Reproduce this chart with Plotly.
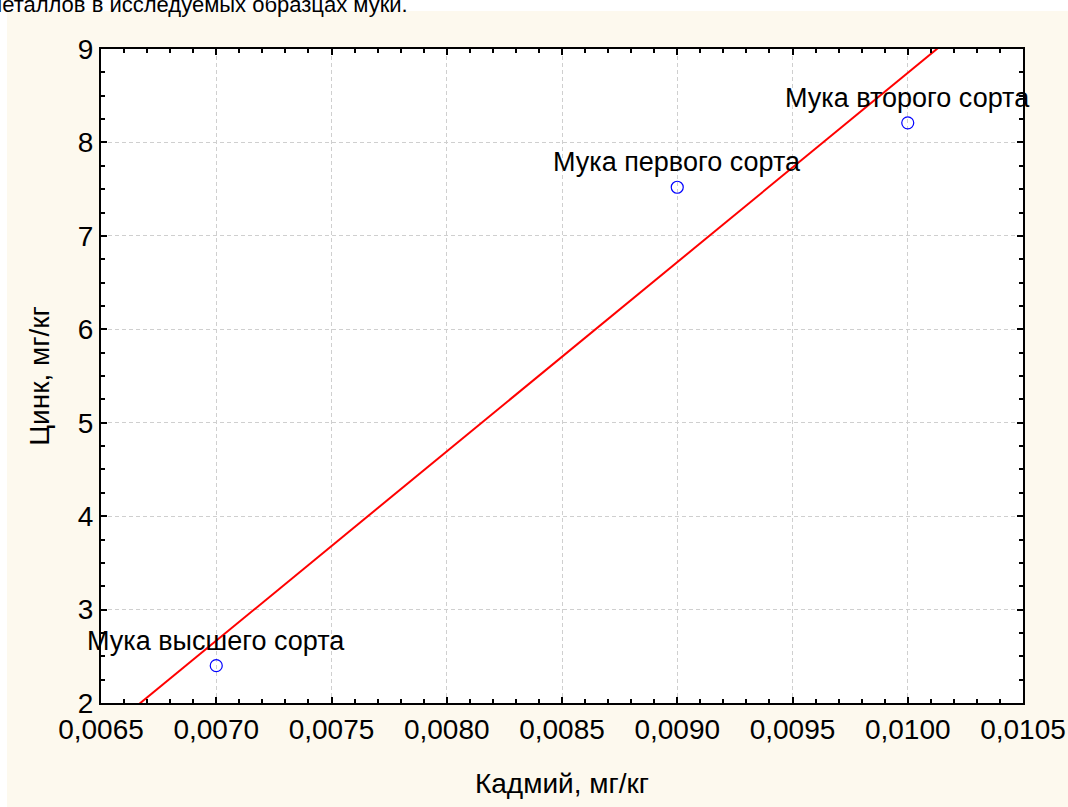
import numpy as np
import plotly.graph_objects as go

# Data
cadmium = [0.0070, 0.0090, 0.0100]
zinc = [2.40, 7.52, 8.21]
labels = ["Мука высшего сорта", "Мука первого сорта", "Мука второго сорта"]
x_ticks = [0.0065, 0.0070, 0.0075, 0.0080, 0.0085, 0.0090, 0.0095, 0.0100, 0.0105]
y_ticks = [2, 3, 4, 5, 6, 7, 8, 9]
caption = "металлов в исследуемых образцах муки."

W, H = 1068, 807
L, R, T, B = 101, 45, 49, 104
pw, ph = W - L - R, H - T - B

def px_x(p):
    return (p - L) / pw

def px_y(p):
    return 1 + (T - p) / ph

FONT = "Liberation Sans, Arial, sans-serif"

slope, intercept = np.polyfit(cadmium, zinc, 1)
fit_x = np.array([x_ticks[0], x_ticks[-1]])
fit_y = slope * fit_x + intercept

fig = go.Figure()
fig.add_trace(go.Scatter(x=fit_x, y=fit_y, mode="lines",
                         line=dict(color="#ff0000", width=2), showlegend=False,
                         hoverinfo="skip"))
fig.add_trace(go.Scatter(x=cadmium, y=zinc, mode="markers",
                         marker=dict(symbol="circle-open", size=12, color="#0000ff",
                                     line=dict(width=1.2, color="#0000ff")),
                         showlegend=False))

for xv, yv, t in zip(cadmium, zinc, labels):
    fig.add_annotation(x=xv, y=yv, text=t, showarrow=False, yshift=25,
                       font=dict(family=FONT, size=27, color="black"))

fig.add_annotation(xref="paper", yref="paper", x=px_x(-15), y=px_y(4),
                   xanchor="left", yanchor="middle", text=caption, showarrow=False,
                   font=dict(family=FONT, size=22, color="black"))

fig.add_shape(type="rect", xref="paper", yref="paper", layer="below",
              x0=px_x(7), x1=px_x(1100), y0=px_y(850), y1=px_y(11),
              fillcolor="#fdf9ee", line=dict(width=0))
fig.add_shape(type="rect", xref="paper", yref="paper", layer="below",
              x0=0, x1=1, y0=0, y1=1, fillcolor="white", line=dict(width=0))

axis_common = dict(
    showline=True, linecolor="black", linewidth=2, mirror="allticks",
    ticks="inside", ticklen=6, tickwidth=1.5, tickcolor="black",
    showgrid=True, gridcolor="#cfcfcf", griddash="4px,3px", gridwidth=1,
    zeroline=False, automargin=False,
    tickfont=dict(family=FONT, size=28, color="black"),
)

fig.update_xaxes(**axis_common, range=[x_ticks[0], x_ticks[-1]], tickvals=x_ticks,
                 tickformat=".4f",
                 minor=dict(ticks="inside", ticklen=4, tickwidth=1.5, tickcolor="black",
                            dtick=0.0001, showgrid=False),
                 title=dict(text="Кадмий, мг/кг", standoff=30,
                            font=dict(family=FONT, size=28, color="black")))
fig.update_yaxes(**axis_common, range=[y_ticks[0], y_ticks[-1]], tickvals=y_ticks,
                 minor=dict(ticks="inside", ticklen=4, tickwidth=1.5, tickcolor="black",
                            dtick=0.25, showgrid=False),
                 title=dict(text="Цинк, мг/кг", standoff=20,
                            font=dict(family=FONT, size=28, color="black")))

fig.update_layout(
    width=W, height=H,
    margin=dict(l=L, r=R, t=T, b=B, pad=0, autoexpand=False),
    paper_bgcolor="white", plot_bgcolor="white",
    separators=", ",
    font=dict(family=FONT, color="black"),
)

fig.write_html("out.html", config={"displayModeBar": False},
               post_script="document.body.style.margin='0';document.body.style.overflow='hidden';")
